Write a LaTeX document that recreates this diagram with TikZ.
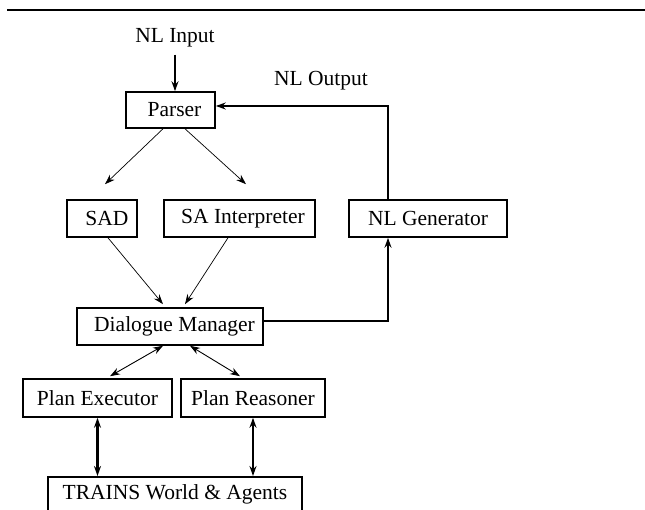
\documentclass[tikz,border=0pt]{standalone}
\usepackage{fontspec}
\setmainfont{Liberation Serif}
\usetikzlibrary{arrows.meta}
\begin{document}
\begin{tikzpicture}[x=1pt,y=-1pt,
  box/.style={draw, line width=1.6pt, inner sep=0pt, anchor=center, font=\fontsize{21.5}{24}\selectfont},
  lbl/.style={inner sep=0pt, font=\fontsize{21.5}{24}\selectfont},
  tip/.style={Stealth[length=10pt,width=7pt]},
  thin/.style={line width=0.7pt, -{Stealth[length=10pt,width=7pt]}},
  thinb/.style={line width=0.9pt, {Stealth[length=10pt,width=7pt]}-{Stealth[length=10pt,width=7pt]}},
  thick/.style={line width=1.6pt, -{Stealth[length=10pt,width=7pt]}},
  thickb/.style={line width=1.6pt, {Stealth[length=10pt,width=7pt]}-{Stealth[length=10pt,width=7pt]}}]
\useasboundingbox (0,0) rectangle (645,510);
\begin{scope}
\clip (0,0) rectangle (645,510);
\draw[line width=1.6pt] (7,10) -- (645,10);
\node[lbl] (nlin) at (175,38) {NL Input};
\node[lbl] (nlout) at (321,81) {NL Output};
\node[box, minimum width=89pt, minimum height=36pt] (parser) at (170.5,110) {\hspace*{8pt}Parser};
\node[box, minimum width=70pt, minimum height=37pt] (sad) at (102,218.5) {\hspace*{10pt}SAD};
\node[box, minimum width=151pt, minimum height=37pt] (sai) at (239.5,218.5) {\hspace*{7pt}SA Interpreter};
\node[box, minimum width=158pt, minimum height=37pt] (nlg) at (428,218.5) {NL Generator};
\node[box, minimum width=186pt, minimum height=37pt] (dm) at (170,326.5) {\hspace*{9pt}Dialogue Manager};
\node[box, minimum width=149pt, minimum height=38pt] (pe) at (97.5,398) {Plan Executor};
\node[box, minimum width=144pt, minimum height=38pt] (pr) at (253,398) {Plan Reasoner};
\node[box, minimum width=254pt, minimum height=36pt, anchor=north] (tw) at (175,476) {TRAINS World \& Agents};

\draw[thick] ([yshift=-7pt]nlin.south) -- (nlin.south |- parser.north);
\draw[thin] ([xshift=-7.5pt]parser.south) -- ([shift={(3,-15)}]sad.north);
\draw[thin] ([xshift=14.5pt]parser.south) -- ([shift={(6.5,-15)}]sai.north);
\draw[thin] ([xshift=6pt]sad.south) -- ([shift={(-7,-3)}]dm.north);
\draw[thin] ([xshift=-11.5pt]sai.south) -- ([shift={(15,-3)}]dm.north);
\draw[thick] ([yshift=5.5pt]dm.east) -| ([xshift=-40pt]nlg.south);
\draw[thick] ([xshift=-40pt]nlg.north) |- ([yshift=4pt]parser.east);
\draw[thinb] ([xshift=-7pt]dm.south) -- ([shift={(12.5,-2)}]pe.north);
\draw[thinb] ([xshift=20pt]dm.south) -- ([shift={(-13,-2)}]pr.north);
\draw[thickb, line width=2.3pt] (pe.south) -- (pe.south |- tw.north);
\draw[thickb] (pr.south) -- (pr.south |- tw.north);
\end{scope}
\end{tikzpicture}
\end{document}
